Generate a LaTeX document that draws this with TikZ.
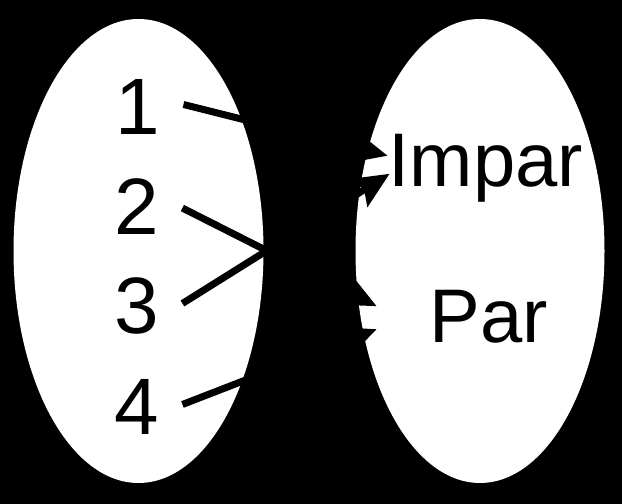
\documentclass[tikz,border=0pt]{standalone}
\usepackage{fontspec}
\setmainfont{Liberation Sans}
\usetikzlibrary{arrows.meta}
\begin{document}
\begin{tikzpicture}[x=1pt,y=1pt,
  digit/.style={inner sep=0pt,anchor=base,font=\fontsize{80}{80}\selectfont},
  word/.style={inner sep=0pt,anchor=base,font=\fontsize{76}{76}\selectfont},
  conn/.style={line width=7pt,-{Stealth[length=36pt,width=32pt,inset=6pt]}}]
\useasboundingbox (0,0) rectangle (622,504);
\fill[black] (0,0) rectangle (622,504);
\fill[white] (138.5,253) ellipse [x radius=125, y radius=232];
\fill[white] (480,253) ellipse [x radius=124.5, y radius=232];
\node[digit] (n1) at (138,369) {1};
\node[digit] (n2) at (137,269) {2};
\node[digit] (n3) at (137,170) {3};
\node[digit] (n4) at (137,69) {4};
\node[word] (impar) at (486,317) {Impar};
\node[word] (par) at (489,161) {Par};
\draw[conn] ([xshift=23pt,yshift=3pt]n1.east) -- ([xshift=-1pt,yshift=13pt]impar.west);
\draw[conn] ([xshift=23pt,yshift=-1pt]n2.east) -- ([xshift=-53pt,yshift=11pt]par.west);
\draw[conn] ([xshift=23pt,yshift=3pt]n3.east) -- ([xshift=1pt,yshift=-5pt]impar.west);
\draw[conn] ([xshift=23pt,yshift=3pt]n4.east) -- ([xshift=-53pt,yshift=-12pt]par.west);
\end{tikzpicture}
\end{document}
